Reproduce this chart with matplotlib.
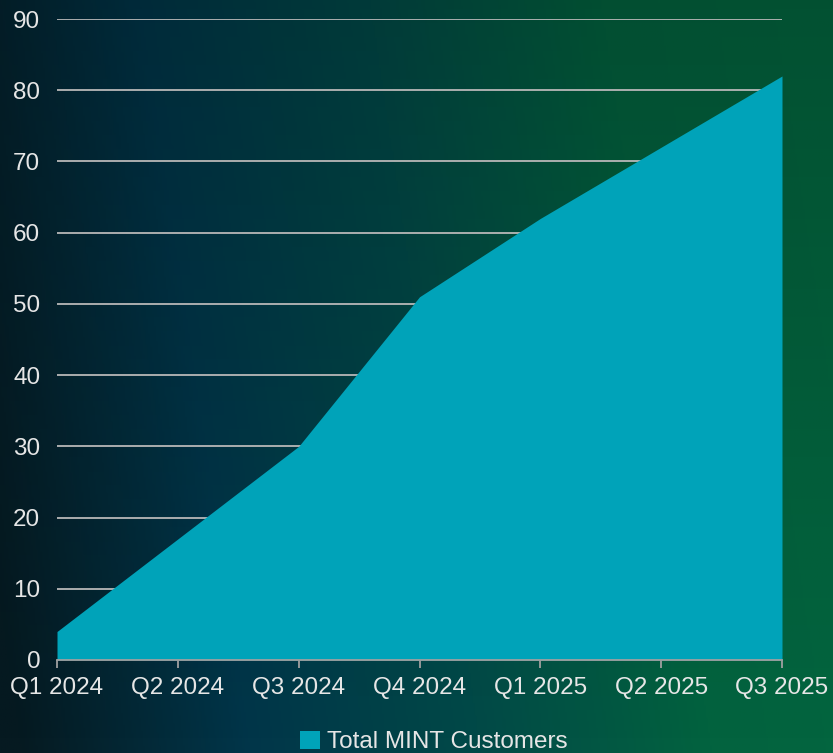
import numpy as np
import matplotlib.pyplot as plt
from matplotlib.colors import LinearSegmentedColormap
from matplotlib.patches import Patch

quarters = ["Q1 2024", "Q2 2024", "Q3 2024", "Q4 2024", "Q1 2025", "Q2 2025", "Q3 2025"]
customers = [4, 17, 30, 51, 62, 72, 82]
yticks = [0, 10, 20, 30, 40, 50, 60, 70, 80, 90]

plt.rcParams['font.family'] = ['Liberation Sans', 'DejaVu Sans']

fig = plt.figure(figsize=(8.33, 7.53), dpi=100)

# gradient background
bg = fig.add_axes([0, 0, 1, 1], zorder=-10)
bg_cmap = LinearSegmentedColormap.from_list(
    "bg", ["#061a21", "#01364a", "#024a48", "#03633f", "#04673f"])
xs = np.linspace(0, 1, 400)
ys = np.linspace(0, 1, 300)
X, Y = np.meshgrid(xs, ys)
G = np.clip(X * 0.9 + (1 - Y) * 0.12 - 0.02, 0, 1)
bg.imshow(G, cmap=bg_cmap, aspect="auto", extent=[0, 1, 0, 1], origin="upper")
shade = np.clip(Y * 0.35, 0, 0.35)
bg.imshow(np.zeros_like(G), cmap="gray", alpha=shade[::-1] * 0.6, aspect="auto",
          extent=[0, 1, 0, 1], origin="upper", vmin=0, vmax=1)
bg.set_axis_off()

ax = fig.add_axes([57 / 833, 1 - 660 / 753, (782 - 57) / 833, (660 - 19) / 753])
ax.patch.set_alpha(0)

x = np.arange(len(quarters))
fill_color = "#00a3b9"
ax.fill_between(x, 0, customers, color=fill_color, linewidth=0, zorder=3)

ax.set_xlim(0, len(quarters) - 1)
ax.set_ylim(0, 90)
ax.set_yticks(yticks)
ax.set_xticks(x)
ax.set_xticklabels(quarters)

ax.grid(axis="y", color="#b8b8b8", linewidth=1.3, zorder=1)
ax.set_axisbelow(True)
for side in ["top", "right", "left"]:
    ax.spines[side].set_visible(False)
ax.spines["bottom"].set_color("#a0a0a0")
ax.spines["bottom"].set_linewidth(1.3)
ax.spines["bottom"].set_zorder(4)

ax.tick_params(axis="y", length=0, pad=12, labelsize=17.5, labelcolor="#e6e6e6")
ax.tick_params(axis="x", length=6, width=1.3, color="#a0a0a0", pad=6,
               labelsize=17.5, labelcolor="#e6e6e6")

handles = [Patch(facecolor=fill_color, edgecolor="none", label="Total MINT Customers")]
fig.legend(handles=handles, loc="center", bbox_to_anchor=(0.521, 0.0146),
           frameon=False, fontsize=17.5, labelcolor="#e6e6e6",
           handlelength=0.8, handleheight=0.8, handletextpad=0.3)

fig.savefig("out.png", dpi=100)
